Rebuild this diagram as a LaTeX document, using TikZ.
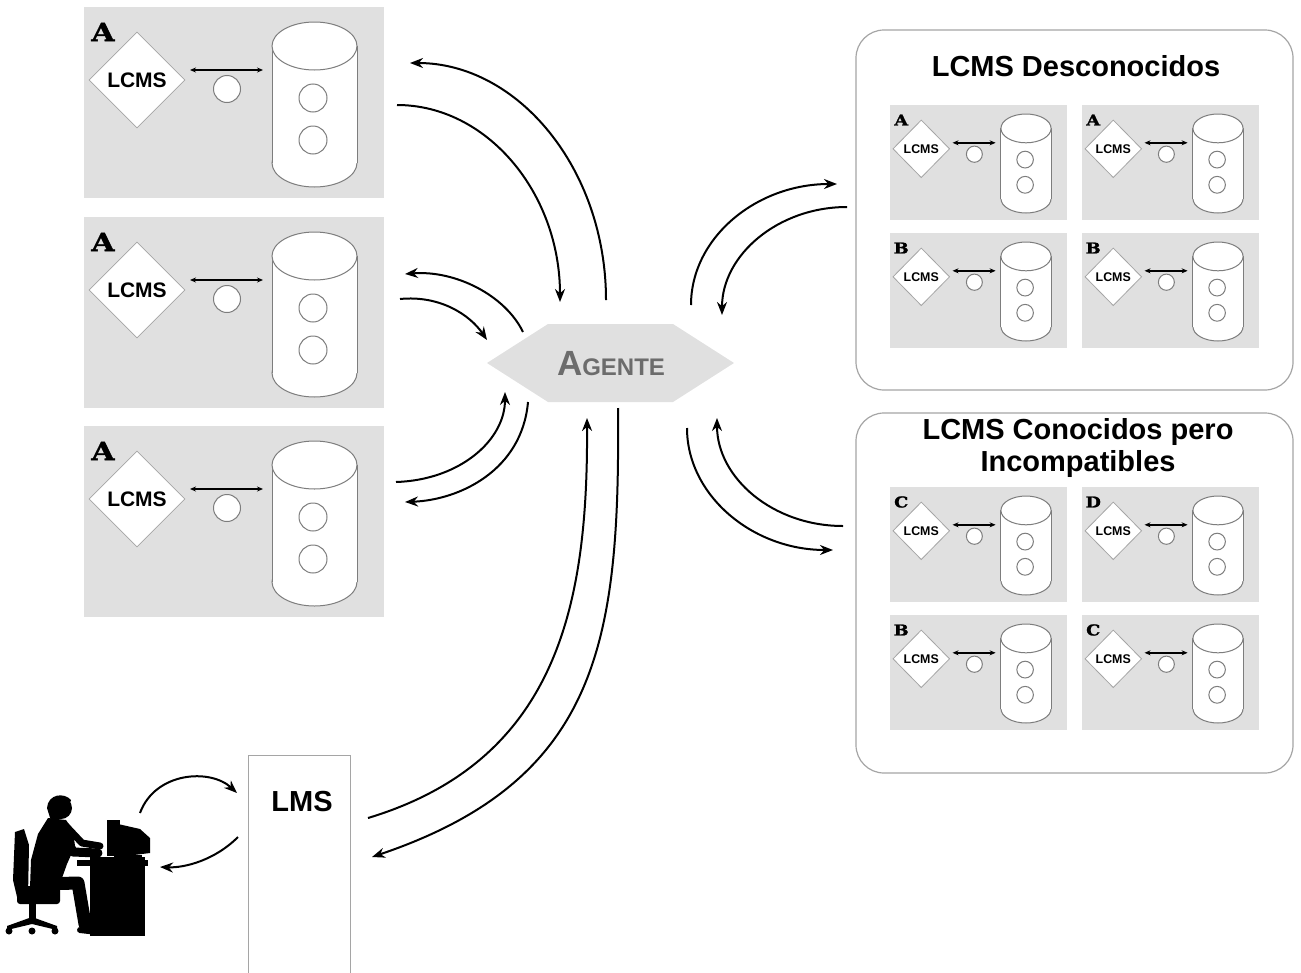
\documentclass[tikz,border=0pt]{standalone}
\usepackage{fontspec}
\setmainfont{Liberation Sans}
\newfontfamily\slabfont[FakeStretch=1.2, FakeBold=1.5]{DejaVu Serif}
\usetikzlibrary{arrows.meta, shapes.geometric}

\definecolor{boxgray}{RGB}{224,224,224}
\definecolor{cylgray}{RGB}{125,125,125}
\definecolor{rimgray}{RGB}{165,165,165}
\definecolor{agentgray}{RGB}{108,108,108}

% one LCMS unit: tag letter, LCMS diamond, link arrow, object, repository
\tikzset{
  pics/lcmsunit/.style={code={
    \fill[boxgray] (0,0) rectangle (300,191);
    \node[diamondbox] (-lcms) at (53,73) {LCMS};
    \node[tagletter] (-tag) at (19,25) {#1};
    \draw[linkarrow] (106,63) -- (179,63);
    \filldraw[cylline] (143,82) circle[radius=13.5];
    % repository
    \filldraw[cylline] (230.5,156) ellipse[x radius=42.5, y radius=24];
    \fill[white] (188,39) rectangle (273,156);
    \draw[cylline] (188,39) -- (188,156) (273,39) -- (273,156);
    \filldraw[cylline] (230.5,39) ellipse[x radius=42.5, y radius=24];
    \filldraw[cylline] (229,91) circle[radius=14] (229,133) circle[radius=14];
  }}
}

\begin{document}
\begin{tikzpicture}[x=1pt, y=-1pt,
    flow/.style={-{Stealth[length=13pt, width=10pt]}, line width=2pt},
    linkarrow/.style={{Stealth[length=6pt, width=5pt]}-{Stealth[length=6pt, width=5pt]}, line width=1.5pt},
    cylline/.style={draw=cylgray, fill=white, line width=1pt},
    diamondbox/.style={diamond, draw=rimgray, fill=white, line width=0.8pt, minimum width=96pt,
        minimum height=96pt, inner sep=0pt, transform shape, font=\bfseries\fontsize{21}{21}\selectfont},
    tagletter/.style={inner sep=0pt, transform shape, font=\slabfont\bfseries\fontsize{25}{25}\selectfont},
    small/.style={xscale=0.59, yscale=0.6},
    panel/.style={draw=rimgray, line width=1.2pt, rounded corners=28pt},
    title/.style={align=center, font=\bfseries\fontsize{29}{32}\selectfont},
    lmsbox/.style={draw=rimgray, line width=1pt}
]
\useasboundingbox (0,0) rectangle (1301,972);

% LCMS A column
\pic (sa1) at (84,7) {lcmsunit=A};
\pic (sa2) at (84,217) {lcmsunit=A};
\pic (sa3) at (84,426) {lcmsunit=A};

% unknown LCMS
\draw[panel] (856,30) rectangle (1293,390);
\node[title] (unk) at (1076,66) {LCMS Desconocidos};
\pic[small] (ka1) at (890,105) {lcmsunit=A};
\pic[small] (ka2) at (1082,105) {lcmsunit=A};
\pic[small] (kb1) at (890,233) {lcmsunit=B};
\pic[small] (kb2) at (1082,233) {lcmsunit=B};

% known but incompatible LCMS
\draw[panel] (856,413) rectangle (1293,773);
\node[title] (inc) at (1078,448) {LCMS Conocidos pero\\Incompatibles};
\pic[small] (ic1) at (890,487) {lcmsunit=C};
\pic[small] (id1) at (1082,487) {lcmsunit=D};
\pic[small] (ib1) at (890,615) {lcmsunit=B};
\pic[small] (ic2) at (1082,615) {lcmsunit=C};

% agent
\fill[boxgray] (487,363) -- (548,324) -- (673,324) -- (734,363) -- (673,402) -- (548,402) -- cycle;
\node[font=\bfseries, text=agentgray] (agent) at (611,364)
    {\fontsize{35}{35}\selectfont A\fontsize{24}{24}\selectfont GENTE};

% LMS
\draw[lmsbox] (248,985) -- (248,755) -- (350,755) -- (350,985);
\node[font=\bfseries\fontsize{29}{29}\selectfont] (lms) at (302,802) {LMS};

% user at the computer
\fill (15,832) -- (24,829) -- (29,845) -- (28,897) -- (18,901) -- (13,880) -- cycle;
\fill[rounded corners=3pt] (17,886) rectangle (60,904);
\fill (29,903) rectangle (36,922);
\fill (7,926) -- (32,917) -- (57,926) -- (57,930) -- (32,924) -- (7,930) -- cycle;
\fill (9,931) circle[radius=3.5] (32,931) circle[radius=3.5] (55,931) circle[radius=3.5];
\fill (61,808) circle[radius=11];
\fill (47,808) .. controls (48,794) and (64,792) .. (71,800) -- (66,815) -- (52,824) -- cycle;
\fill (48,818) -- (66,820) -- (73,830) -- (75,846) -- (67,864) -- (62,878) -- (46,892) -- (30,888)
    -- (31,860) -- (38,834) -- cycle;
\draw[line width=9pt, line cap=round, line join=round] (62,828) -- (73,852) -- (98,853);
\draw[line width=7pt, line cap=round, line join=round] (66,826) -- (82,843) -- (100,846);
\draw[line width=13pt, line cap=round, line join=round] (40,884) -- (78,883) -- (85,924);
\draw[line width=6pt, line cap=round] (80,930) -- (98,932);
\fill (90,857) rectangle (145,936);
\fill (77,860) rectangle (148,866);
\fill (107,820) rectangle (120,856);
\fill (118,824) -- (140,829) -- (150,838) -- (150,853) -- (118,857) -- cycle;
\fill (114,855) rectangle (142,860);

% connector ends
\coordinate (a1s) at (397,105); \coordinate (a1e) at (560,302);
\coordinate (a2s) at (606,300); \coordinate (a2e) at (410,63);
\coordinate (b1s) at (523,332); \coordinate (b1e) at (405,274);
\coordinate (b2s) at (400,299); \coordinate (b2e) at (487,340);
\coordinate (c1s) at (396,482); \coordinate (c1e) at (505,392);
\coordinate (c2s) at (528,402); \coordinate (c2e) at (405,502);
\coordinate (l1s) at (368,818); \coordinate (l1e) at (587,418);
\coordinate (l2s) at (618,408); \coordinate (l2e) at (372,857);
\coordinate (t1s) at (691,305); \coordinate (t1e) at (837,184);
\coordinate (t2s) at (847,207); \coordinate (t2e) at (722,315);
\coordinate (r1s) at (687,428); \coordinate (r1e) at (833,550);
\coordinate (r2s) at (843,526); \coordinate (r2e) at (717,418);
\coordinate (u1s) at (140,813); \coordinate (u1e) at (237,793);
\coordinate (u2s) at (238,837); \coordinate (u2e) at (160,867);

% exchanges with the agent
\draw[flow] (a1s) .. controls (487,105) and (560,193) .. (a1e);
\draw[flow] (a2s) .. controls (606,169) and (518,63) .. (a2e);
\draw[flow] (b1s) .. controls (505,295) and (455,270) .. (b1e);
\draw[flow] (b2s) .. controls (440,295) and (470,315) .. (b2e);
\draw[flow] (c1s) .. controls (460,480) and (505,440) .. (c1e);
\draw[flow] (c2s) .. controls (522,470) and (460,500) .. (c2e);
\draw[flow] (l1s) .. controls (560,760) and (588,600) .. (l1e);
\draw[flow] (l2s) .. controls (620,640) and (600,780) .. (l2e);
\draw[flow] (t1s) .. controls (691,238) and (756,184) .. (t1e);
\draw[flow] (t2s) .. controls (778,207) and (722,255) .. (t2e);
\draw[flow] (r1s) .. controls (687,495) and (752,550) .. (r1e);
\draw[flow] (r2s) .. controls (773,526) and (717,478) .. (r2e);
\draw[flow] (u1s) .. controls (155,772) and (210,768) .. (u1e);
\draw[flow] (u2s) .. controls (215,860) and (185,868) .. (u2e);
\end{tikzpicture}
\end{document}
